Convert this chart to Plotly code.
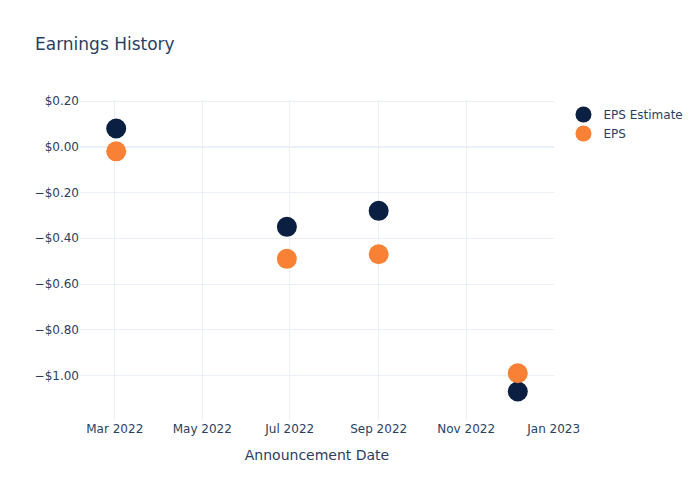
import plotly.graph_objects as go

dates = ["2022-03-02", "2022-06-29", "2022-09-01", "2022-12-07"]
eps_estimate = [0.08, -0.35, -0.28, -1.07]
eps_actual = [-0.02, -0.49, -0.47, -0.99]

fig = go.Figure()
fig.add_trace(go.Scatter(x=dates, y=eps_estimate, mode="markers", name="EPS Estimate",
                         marker=dict(color="#0B1F42", size=20)))
fig.add_trace(go.Scatter(x=dates, y=eps_actual, mode="markers", name="EPS",
                         marker=dict(color="#F88136", size=20)))
fig.update_layout(
    template="plotly_white",
    width=700, height=500,
    font=dict(family="DejaVu Sans"),
    title=dict(text="Earnings History"),
    xaxis=dict(title=dict(text="Announcement Date")),
    yaxis=dict(tickformat="$.2f"),
)
fig.write_html("out.html")
